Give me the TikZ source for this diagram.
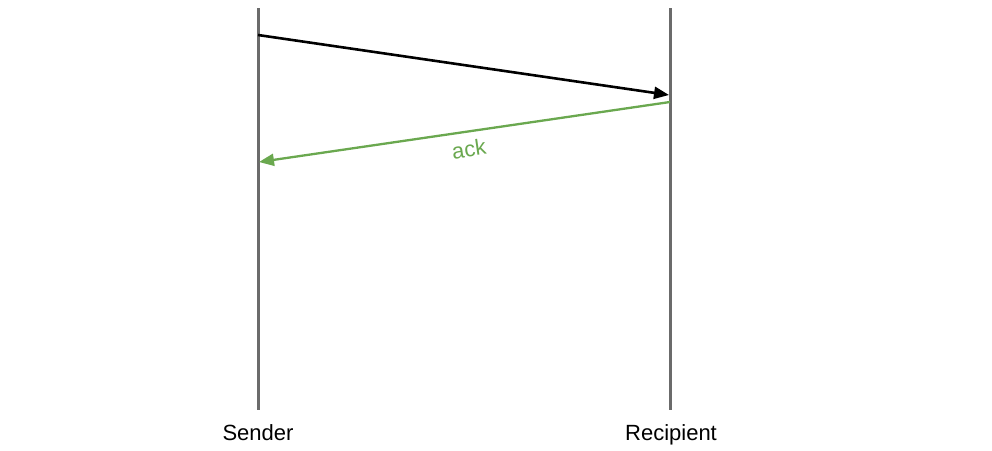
\documentclass[tikz,border=0pt]{standalone}
\usepackage{fontspec}
\setmainfont{Liberation Sans}
\usetikzlibrary{arrows.meta}
\definecolor{lifegray}{HTML}{6B6B6B}
\definecolor{ackgreen}{HTML}{6AA84F}
\begin{document}
\begin{tikzpicture}[x=1pt,y=-1pt,
  lifeline/.style={draw=lifegray,line width=3pt},
  msg/.style={line width=2.6pt,-{Triangle[length=15pt,width=12pt]}},
  lbl/.style={font=\fontsize{22}{24}\selectfont,text=black,anchor=base}]
\useasboundingbox (0,0) rectangle (992,450);
\coordinate (stop) at (258,8);
\coordinate (sbot) at (258,410);
\coordinate (rtop) at (670,8);
\coordinate (rbot) at (670,410);
\draw[lifeline] (stop) -- (sbot);
\draw[lifeline] (rtop) -- (rbot);
\node[lbl] (sender) at (258,440) {Sender};
\node[lbl] (recipient) at (671,440) {Recipient};
\coordinate (m1s) at (258,35);
\coordinate (m1e) at (669,95);
\coordinate (m2s) at (670,102);
\coordinate (m2e) at (259,162);
\draw[msg,black] (m1s) -- (m1e);
\draw[msg,ackgreen,line width=2.3pt] (m2s) -- (m2e);
\node[text=ackgreen,font=\fontsize{22}{24}\selectfont,rotate=8.3] (ack) at (469,149) {ack};
\end{tikzpicture}
\end{document}
